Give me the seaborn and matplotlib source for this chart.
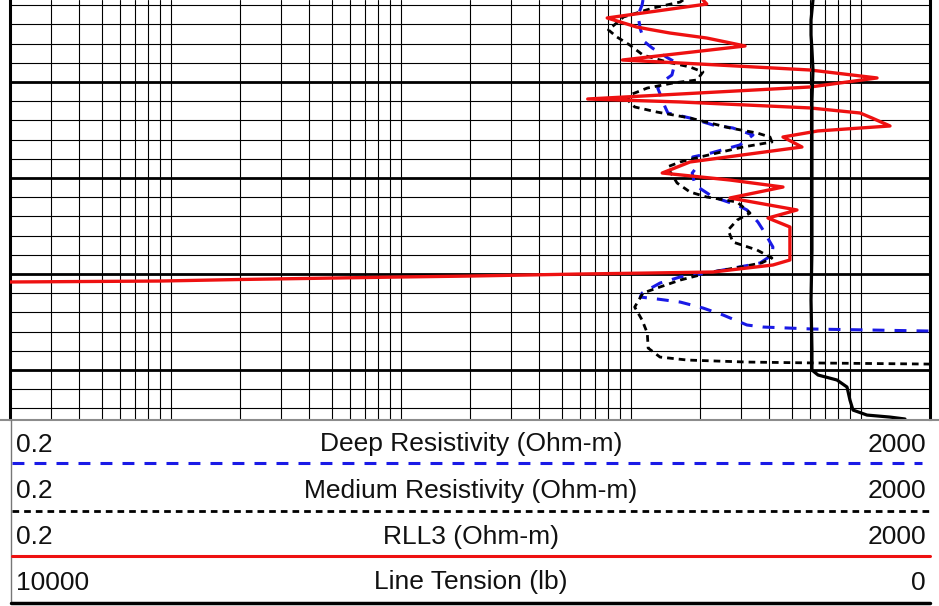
import numpy as np
import pandas as pd
import seaborn as sns
import matplotlib
matplotlib.use("Agg")
import matplotlib.pyplot as plt
from matplotlib.lines import Line2D

# ---------------- data (depth in ft, resistivity in ohm-m, tension in lb) ----------------
rll3_depth = [91.46, 91.88, 93.33, 94.27, 94.48, 94.90, 95.42, 96.25, 97.71, 98.13, 98.75, 99.58,
              100.52, 101.77, 102.08, 102.70, 103.23, 103.75, 104.58, 105.10, 105.73, 106.77,
              108.33, 109.48, 110.21, 110.94, 112.08, 113.33, 114.17, 115.10, 118.54, 119.06,
              119.79, 119.90, 120.00, 120.21, 120.31, 120.57, 120.73, 120.83, 120.92]
rll3_value = [206, 214, 79, 106, 118, 148, 214, 314, 92, 200, 602, 1177,
              602, 65, 164, 600, 993, 1119, 1340, 650, 459, 555,
              181, 137, 270, 459, 270, 528, 395, 492, 492, 415,
              228, 118, 60, 20, 9.9, 2.0, 0.9, 0.2, 0.12]

deep_depth = [91.46, 91.98, 93.02, 94.48, 95.83, 96.46, 97.50, 97.92, 99.27, 100.00, 100.63,
              102.60, 103.23, 103.75, 104.48, 104.79, 105.52, 106.56, 107.40, 107.81, 108.85,
              109.48, 110.73, 111.98, 112.81, 113.33, 114.58, 115.42, 117.19, 118.02, 118.85,
              119.06, 119.90, 120.31, 120.94, 121.98, 122.40, 122.60, 122.92, 123.54, 124.27,
              125.31, 125.52, 125.73, 125.94, 126.05, 135.50]
deep_value = [113, 112, 107.5, 110, 115, 124, 145, 156, 151, 137, 131,
              141, 145, 181, 228, 278, 340, 298, 223, 186, 194,
              185, 190, 228, 290, 320, 357, 376, 415, 411, 365,
              330, 214, 164, 134, 112, 110, 130, 164, 206, 252,
              320, 375, 620, 2000, 5000, 5000]

med_depth = [91.46, 91.67, 92.29, 93.23, 94.58, 95.31, 96.15, 97.19, 97.92, 98.44, 98.96,
             99.79, 100.10, 100.63, 101.35, 101.88, 102.60, 103.13, 103.75, 104.79, 105.31,
             105.73, 106.25, 106.77, 107.40, 107.81, 108.33, 108.85, 110.52, 111.46, 111.98,
             112.50, 113.65, 114.38, 115.42, 116.67, 117.50, 118.33, 118.85, 119.27, 119.79,
             120.63, 121.35, 121.98, 123.44, 124.79, 126.15, 127.71, 128.65, 128.96, 129.17,
             129.27, 129.38, 129.45, 135.50]
med_value = [169, 164, 125, 93, 80, 87, 99, 113, 144, 181, 206,
             194, 153, 118, 99, 97, 104, 130, 181, 270, 354,
             403, 411, 308, 237, 200, 164, 144, 159, 181, 214,
             290, 330, 290, 265, 278, 354, 411, 370, 300, 225,
             164, 134, 113, 104, 112, 118, 119, 134, 176, 320,
             665, 2000, 5000, 5000]

tension_depth = [91.46, 93.54, 95.10, 96.67, 98.75, 101.88, 107.08, 112.29, 117.50, 122.71,
                 127.92, 130.00, 130.52, 131.04, 131.77, 133.13, 134.17, 134.69, 134.90, 135.10]
tension_value = [1272, 1293, 1293, 1283, 1272, 1283, 1283, 1283, 1283, 1293,
                 1283, 1283, 1217, 1011, 902, 870, 837, 685, 435, 272]

header_titles = ["Deep Resistivity (Ohm-m)", "Medium Resistivity (Ohm-m)", "RLL3 (Ohm-m)", "Line Tension (lb)"]
header_left = ["0.2", "0.2", "0.2", "10000"]
header_right = ["2000", "2000", "2000", "0"]

# ---------------- figure ----------------
sns.set_style("white")
plt.rcParams["font.family"] = ["Liberation Sans", "DejaVu Sans"]

W, H = 939, 606
fig = plt.figure(figsize=(W / 100, H / 100), dpi=100)
ax = fig.add_axes([10 / W, 1 - 419 / H, 920 / W, 419 / H])

RED = "#ee1111"
BLUE = "#1a1ae6"
blue_dash = (3.9, 3.3)
black_dash = (2.4, 1.8)

deep = pd.DataFrame({"depth": deep_depth, "value": deep_value})
med = pd.DataFrame({"depth": med_depth, "value": med_value})
rll3 = pd.DataFrame({"depth": rll3_depth, "value": rll3_value})
ten = pd.DataFrame({"depth": tension_depth, "value": tension_value})

sns.lineplot(data=deep, x="value", y="depth", ax=ax, sort=False, orient="y", estimator=None,
             color=BLUE, lw=2.2, zorder=3).lines[-1].set_dashes(blue_dash)
sns.lineplot(data=med, x="value", y="depth", ax=ax, sort=False, orient="y", estimator=None,
             color="black", lw=2.0, zorder=4).lines[-1].set_dashes(black_dash)
sns.lineplot(data=rll3, x="value", y="depth", ax=ax, sort=False, orient="y", estimator=None,
             color=RED, lw=2.4, zorder=5)

ax.set_xscale("log")
ax.set_xlim(0.2, 2000)

major_x = [1, 10, 100, 1000]
minor_x = [m * 10.0 ** e for e in range(-1, 4) for m in range(2, 10)]
minor_x = [v for v in minor_x if 0.2 < v < 2000 and v not in major_x]
ax.set_xticks(major_x)
ax.set_xticks(minor_x, minor=True)
ax.set_yticks([100, 110, 120, 130])
ax.set_yticks([v for v in range(92, 136, 2) if v % 10 != 0], minor=True)
ax.grid(which="major", axis="x", color="black", lw=0.8)
ax.grid(which="minor", axis="x", color="black", lw=0.8)
ax.grid(which="major", axis="y", color="black", lw=2.0)
ax.grid(which="minor", axis="y", color="black", lw=0.8)
ax.set_axisbelow(True)
ax.tick_params(which="both", length=0, labelbottom=False, labelleft=False)
ax.set_xlabel("")
ax.set_ylabel("")
for s in ["top", "bottom"]:
    ax.spines[s].set_visible(False)
for s in ["left", "right"]:
    ax.spines[s].set_color("black")
    ax.spines[s].set_linewidth(2.2)

# tension on twin axis (linear, 10000 -> 0)
ax2 = ax.twiny()
sns.lineplot(data=ten, x="value", y="depth", ax=ax2, sort=False, orient="y", estimator=None,
             color="black", lw=2.3, zorder=6)
ax2.set_xlim(10000, 0)
ax2.set_xlabel("")
ax2.set_ylabel("")
ax2.tick_params(which="both", length=0, labeltop=False, labelbottom=False)
for s in ax2.spines.values():
    s.set_visible(False)
ax.set_ylim(135.1, 91.46)

# ---------------- header ----------------
def fx(px):
    return px / W

def fy(py):
    return 1 - py / H

fig.add_artist(Line2D([0, 1], [fy(419.5)] * 2, color="#8c8c8c", lw=1.5))
fig.add_artist(Line2D([fx(11), fx(11)], [fy(419.5), fy(603)], color="#777777", lw=1.0))

l1 = Line2D([fx(12), fx(922)], [fy(463)] * 2, color=BLUE, lw=2.2)
l1.set_dashes(blue_dash)
fig.add_artist(l1)
l2 = Line2D([fx(12), fx(930)], [fy(511)] * 2, color="black", lw=2.0)
l2.set_dashes(black_dash)
fig.add_artist(l2)
fig.add_artist(Line2D([fx(12), fx(930)], [fy(556)] * 2, color=RED, lw=2.2))
fig.add_artist(Line2D([fx(11), fx(930)], [fy(603)] * 2, color="black", lw=2.5))

baselines = [451.5, 498, 544, 589.5]
for title, left, right, b in zip(header_titles, header_left, header_right, baselines):
    fig.text(fx(16), fy(b), left, ha="left", va="baseline", fontsize=19, color="#111111")
    fig.text(fx(471), fy(b), title, ha="center", va="baseline", fontsize=19, color="#111111")
    fig.text(fx(926), fy(b), right, ha="right", va="baseline", fontsize=19, color="#111111")

fig.savefig("out.png", dpi=100)
